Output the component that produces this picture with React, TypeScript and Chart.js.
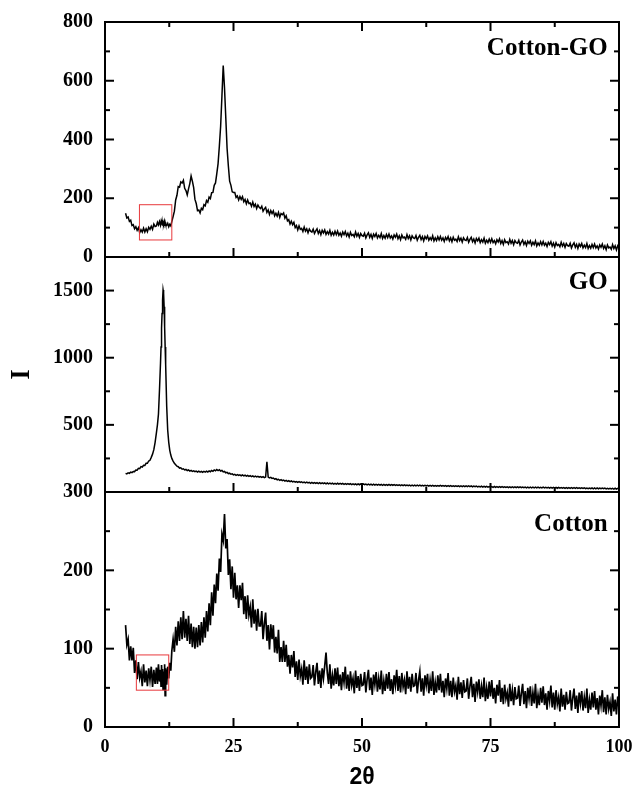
import React, { useEffect, useRef } from 'react';
import { Chart, registerables } from 'chart.js';

Chart.register(...registerables);

// 2θ sampling positions (shared by all three scans)
const twoTheta = [
  4, 4.25, 4.5, 4.75, 5, 5.25, 5.5, 5.75, 6, 6.25, 6.5, 6.75,
  7, 7.25, 7.5, 7.75, 8, 8.25, 8.5, 8.75, 9, 9.25, 9.5, 9.75,
  10, 10.2, 10.4, 10.6, 10.8, 10.9, 11, 11.1, 11.2, 11.3, 11.4, 11.5, 11.6, 11.7, 11.8, 12, 12.2, 12.4, 12.6, 12.8, 13,
  13.25, 13.5, 13.75, 14, 14.25, 14.5, 14.75, 15, 15.25, 15.5,
  15.75, 16, 16.25, 16.5, 16.75, 17, 17.25, 17.5, 17.75, 18,
  18.25, 18.5, 18.75, 19, 19.25, 19.5, 19.75, 20, 20.25, 20.5,
  20.75, 21, 21.25, 21.5, 21.75, 22, 22.25, 22.5, 22.75, 23,
  23.25, 23.5, 23.75, 24, 24.25, 24.5, 24.75, 25,
  25.25, 25.5, 25.75, 26, 26.25, 26.5, 26.75, 27, 27.25, 27.5, 27.75, 28, 28.25, 28.5, 28.75, 29, 29.25, 29.5, 29.75, 30,
  30.25, 30.5, 30.75, 31, 31.25, 31.5, 31.75, 32, 32.25, 32.5, 32.75, 33, 33.25, 33.5, 33.75, 34, 34.25, 34.5, 34.75, 35,
  35.25, 35.5, 35.75, 36, 36.25, 36.5, 36.75, 37, 37.25, 37.5, 37.75, 38, 38.25, 38.5, 38.75, 39, 39.25, 39.5, 39.75, 40,
  40.25, 40.5, 40.75, 41, 41.25, 41.5, 41.75, 42, 42.25, 42.5, 42.75, 43, 43.25, 43.5, 43.75, 44, 44.25, 44.5, 44.75, 45,
  45.25, 45.5, 45.75, 46, 46.25, 46.5, 46.75, 47, 47.25, 47.5, 47.75, 48, 48.25, 48.5, 48.75, 49, 49.25, 49.5, 49.75, 50,
  50.25, 50.5, 50.75, 51, 51.25, 51.5, 51.75, 52, 52.25, 52.5, 52.75, 53, 53.25, 53.5, 53.75, 54, 54.25, 54.5, 54.75, 55,
  55.25, 55.5, 55.75, 56, 56.25, 56.5, 56.75, 57, 57.25, 57.5, 57.75, 58, 58.25, 58.5, 58.75, 59, 59.25, 59.5, 59.75, 60,
  60.25, 60.5, 60.75, 61, 61.25, 61.5, 61.75, 62, 62.25, 62.5, 62.75, 63, 63.25, 63.5, 63.75, 64, 64.25, 64.5, 64.75, 65,
  65.25, 65.5, 65.75, 66, 66.25, 66.5, 66.75, 67, 67.25, 67.5, 67.75, 68, 68.25, 68.5, 68.75, 69, 69.25, 69.5, 69.75, 70,
  70.25, 70.5, 70.75, 71, 71.25, 71.5, 71.75, 72, 72.25, 72.5, 72.75, 73, 73.25, 73.5, 73.75, 74, 74.25, 74.5, 74.75, 75,
  75.25, 75.5, 75.75, 76, 76.25, 76.5, 76.75, 77, 77.25, 77.5, 77.75, 78, 78.25, 78.5, 78.75, 79, 79.25, 79.5, 79.75, 80,
  80.25, 80.5, 80.75, 81, 81.25, 81.5, 81.75, 82, 82.25, 82.5, 82.75, 83, 83.25, 83.5, 83.75, 84, 84.25, 84.5, 84.75, 85,
  85.25, 85.5, 85.75, 86, 86.25, 86.5, 86.75, 87, 87.25, 87.5, 87.75, 88, 88.25, 88.5, 88.75, 89, 89.25, 89.5, 89.75, 90,
  90.25, 90.5, 90.75, 91, 91.25, 91.5, 91.75, 92, 92.25, 92.5, 92.75, 93, 93.25, 93.5, 93.75, 94, 94.25, 94.5, 94.75, 95,
  95.25, 95.5, 95.75, 96, 96.25, 96.5, 96.75, 97, 97.25, 97.5, 97.75, 98, 98.25, 98.5, 98.75, 99, 99.25, 99.5, 99.75, 100,
];

// Cotton-GO intensity
const cottonGO = [
  149, 133, 136, 121, 125, 107, 110, 96, 103, 91, 100, 83,
  93, 85, 98, 85, 96, 86, 101, 94, 105, 94, 112, 104,
  106, 118, 109, 121, 108, 119, 110, 122, 107, 117, 112, 120, 106, 118, 111, 108, 115, 103, 111, 106, 121,
  138, 156, 194, 210, 240, 238, 256, 252, 261, 234,
  226, 211, 232, 250, 276, 258, 236, 196, 182, 158,
  160, 150, 166, 161, 178, 174, 192, 186, 204, 199,
  219, 220, 244, 252, 284, 318, 378, 446, 548, 652,
  576, 474, 370, 310, 258, 244, 222, 220,
  220, 203, 208, 194, 206, 196, 205, 188, 196, 181, 194, 182, 184, 173, 187, 172, 180, 165, 177, 169,
  165, 173, 156, 164, 169, 152, 160, 145, 158, 148, 157, 140, 149, 139, 152, 135, 148, 144, 150, 132,
  140, 123, 127, 112, 122, 110, 118, 100, 107, 92, 106, 94, 97, 87, 102, 88, 96, 82, 95, 88,
  85, 95, 80, 89, 96, 80, 90, 76, 91, 82, 92, 77, 86, 78, 91, 74, 84, 75, 88, 76,
  88, 74, 82, 71, 85, 76, 87, 72, 81, 68, 84, 73, 77, 69, 85, 71, 80, 67, 80, 73,
  71, 81, 65, 75, 82, 67, 77, 63, 78, 70, 80, 65, 74, 66, 80, 63, 73, 64, 77, 66,
  78, 65, 72, 61, 75, 67, 78, 62, 72, 59, 75, 65, 68, 60, 76, 63, 72, 58, 72, 65,
  63, 73, 57, 67, 74, 59, 69, 55, 70, 62, 72, 57, 66, 58, 72, 55, 65, 56, 69, 58,
  70, 57, 65, 53, 67, 59, 70, 55, 65, 52, 67, 57, 61, 53, 69, 56, 64, 51, 65, 58,
  56, 66, 50, 60, 67, 52, 61, 48, 63, 55, 64, 49, 59, 51, 64, 47, 57, 49, 61, 50,
  62, 49, 56, 45, 59, 51, 62, 46, 56, 43, 59, 49, 52, 44, 60, 47, 56, 42, 56, 49,
  47, 57, 41, 51, 58, 43, 52, 39, 54, 46, 55, 40, 50, 42, 55, 38, 48, 40, 52, 41,
  53, 40, 47, 36, 50, 42, 52, 37, 47, 34, 49, 39, 43, 35, 50, 37, 46, 33, 46, 39,
  37, 47, 31, 41, 48, 33, 43, 29, 44, 36, 46, 31, 40, 32, 46, 29, 39, 30, 43, 32,
  44, 31, 38, 27, 41, 33, 44, 29, 38, 25, 41, 31, 34, 26, 42, 29, 38, 24, 38, 31,
];

// GO intensity
const goI = [
  139, 135, 143, 139, 148, 144, 153, 152, 164, 162, 176, 174,
  189, 186, 199, 198, 214, 214, 231, 236, 258, 282, 315, 370,
  440, 500, 580, 760, 960, 1080, 1220, 1330, 1430, 1505, 1480, 1380, 1230, 1080, 950, 640, 460, 370, 310, 275, 250,
  230, 214, 203, 192, 188, 178, 180, 170, 173, 164,
  168, 160, 164, 156, 161, 153, 158, 151, 156, 149,
  155, 148, 154, 147, 153, 148, 155, 149, 157, 151,
  160, 154, 164, 158, 167, 160, 166, 156, 160, 150,
  153, 143, 146, 137, 140, 132, 135, 127,
  131, 124, 129, 123, 128, 121, 127, 120, 125, 118, 123, 116, 122, 115, 120, 113, 118, 112, 117, 110,
  115, 109, 114, 107, 112, 225, 111, 105, 109, 101, 104, 95, 99, 91, 95, 87, 92, 85, 89, 81,
  86, 79, 84, 77, 82, 75, 80, 73, 78, 72, 77, 71, 76, 69, 74, 68, 73, 67, 72, 65,
  71, 65, 70, 64, 70, 63, 69, 63, 68, 62, 68, 61, 67, 61, 66, 60, 66, 59, 65, 59,
  65, 58, 64, 58, 64, 57, 63, 57, 62, 56, 62, 55, 61, 55, 61, 54, 60, 54, 60, 54,
  60, 54, 59, 53, 59, 53, 58, 52, 58, 52, 57, 51, 57, 51, 56, 50, 56, 50, 55, 50,
  56, 50, 55, 50, 55, 49, 54, 49, 54, 48, 53, 48, 53, 47, 52, 47, 52, 46, 51, 46,
  52, 46, 51, 46, 51, 45, 50, 45, 50, 45, 49, 44, 49, 44, 49, 43, 48, 43, 48, 43,
  49, 43, 48, 43, 48, 42, 47, 42, 47, 42, 46, 41, 46, 41, 46, 40, 45, 40, 45, 40,
  46, 40, 45, 40, 45, 39, 44, 39, 44, 38, 43, 38, 43, 37, 42, 37, 42, 36, 41, 36,
  41, 35, 41, 35, 40, 35, 40, 34, 40, 34, 39, 34, 39, 33, 39, 33, 38, 33, 38, 32,
  38, 32, 38, 32, 37, 32, 37, 31, 37, 31, 36, 31, 36, 31, 36, 30, 36, 30, 35, 30,
  36, 30, 35, 30, 35, 29, 35, 29, 34, 29, 34, 28, 34, 28, 33, 28, 33, 27, 33, 27,
  33, 27, 32, 27, 32, 27, 32, 26, 31, 26, 31, 26, 31, 25, 30, 25, 30, 25, 30, 24,
  30, 24, 30, 24, 29, 24, 29, 24, 29, 23, 28, 23, 28, 23, 28, 22, 28, 22, 27, 22,
];

// Cotton intensity
const cottonI = [
  130, 105, 112, 85, 103, 85, 101, 69, 85, 61, 83, 63,
  71, 52, 80, 57, 72, 52, 75, 60, 77, 51, 73, 55,
  76, 55, 80, 58, 73, 52, 79, 60, 74, 48, 71, 62, 80, 40, 75, 54, 77, 62, 82, 72, 97,
  112, 96, 128, 104, 135, 110, 140, 112, 148, 114,
  138, 110, 142, 106, 132, 102, 128, 100, 127, 102,
  130, 104, 134, 108, 140, 114, 148, 122, 158, 130,
  172, 142, 182, 158, 196, 174, 215, 198, 246, 238,
  272, 228, 240, 194, 214, 176, 205, 165,
  197, 163, 181, 152, 181, 162, 184, 144, 167, 138, 168, 143, 153, 127, 163, 132, 150, 123, 151, 129,
  129, 148, 112, 132, 146, 110, 130, 99, 131, 112, 130, 95, 115, 94, 124, 83, 102, 83, 110, 83,
  105, 77, 92, 68, 92, 76, 97, 64, 84, 60, 86, 65, 74, 54, 85, 60, 77, 55, 80, 62,
  64, 79, 53, 70, 82, 55, 72, 50, 75, 62, 78, 95, 69, 55, 80, 49, 66, 53, 75, 55,
  76, 52, 67, 47, 70, 57, 77, 49, 67, 46, 71, 53, 62, 43, 72, 50, 65, 46, 68, 53,
  54, 70, 44, 61, 73, 47, 63, 41, 67, 54, 70, 45, 62, 48, 72, 42, 59, 46, 68, 49,
  70, 46, 61, 42, 66, 53, 73, 46, 65, 44, 69, 51, 60, 42, 71, 49, 64, 45, 68, 52,
  53, 69, 43, 60, 71, 45, 62, 40, 66, 53, 68, 43, 60, 46, 71, 41, 57, 44, 66, 47,
  68, 44, 59, 38, 62, 49, 69, 40, 59, 38, 63, 45, 53, 35, 64, 42, 57, 37, 60, 45,
  46, 62, 36, 52, 64, 38, 55, 32, 58, 45, 61, 36, 52, 38, 63, 33, 50, 36, 58, 39,
  60, 36, 50, 30, 54, 40, 60, 32, 50, 29, 54, 36, 44, 26, 55, 33, 47, 28, 51, 36,
  37, 53, 27, 43, 55, 29, 46, 24, 50, 36, 52, 27, 44, 30, 55, 24, 41, 28, 50, 31,
  52, 28, 43, 22, 46, 33, 53, 25, 44, 22, 47, 29, 38, 20, 49, 26, 41, 22, 45, 30,
  31, 47, 21, 37, 49, 23, 40, 18, 44, 30, 46, 21, 38, 24, 49, 18, 35, 22, 44, 25,
  46, 22, 37, 16, 40, 27, 47, 19, 38, 16, 41, 23, 32, 14, 43, 20, 35, 16, 39, 24,
];

// panels (top to bottom)
const panelIds = ['yTop', 'yGO', 'yCot'];
const panelNames = ['Cotton-GO', 'GO', 'Cotton'];
const panelMin = [0, 0, 0];
const panelMax = [800, 1750, 300];
const panelMajor = [200, 500, 100];
const panelMinor = [100, 250, 50];
const topTickLabels = [0, 200, 400, 600, 800];
const goTickLabels = [500, 1000, 1500];
const cotTickLabels = [0, 100, 200, 300];
const panelTickLabels = [topTickLabels, goTickLabels, cotTickLabels];
const panelLineWidth = [1.5, 1.5, 1.7];
const panelLabelX = 97.8;
const panelLabelY = [708, 1560, 258];

// x axis
const xMin = 0;
const xMax = 100;
const xTickLabels = [0, 25, 50, 75, 100];
const xMajor = 25;
const xMinor = 12.5;

// highlighted regions (red boxes)
const boxPanels = ['yTop', 'yCot'];
const boxX0 = [6.7, 6.1];
const boxX1 = [13.0, 12.4];
const boxY0 = [58, 47];
const boxY1 = [178, 92];

const serif = "'Liberation Serif', 'Times New Roman', serif";
const sans = "'Liberation Sans', Arial, sans-serif";

const framePlugin = {
  id: 'frameTicks',
  afterDraw(chart: any) {
    const ctx = chart.ctx;
    const area = chart.chartArea;
    const xs = chart.scales.x;
    ctx.save();
    ctx.strokeStyle = '#000';
    ctx.lineCap = 'butt';
    const line = (x1: number, y1: number, x2: number, y2: number, w: number) => {
      ctx.lineWidth = w;
      ctx.beginPath();
      ctx.moveTo(x1, y1);
      ctx.lineTo(x2, y2);
      ctx.stroke();
    };
    panelIds.forEach((id, i) => {
      const s = chart.scales[id];
      const top = s.top;
      const bottom = s.bottom;
      for (let v = panelMin[i]; v <= panelMax[i] + 1e-6; v += panelMinor[i]) {
        const y = s.getPixelForValue(v);
        const len = Math.abs(v % panelMajor[i]) < 1e-6 ? 9 : 5;
        line(area.left, y, area.left + len, y, 2);
        line(area.right, y, area.right - len, y, 2);
      }
      for (let v = xMin; v <= xMax + 1e-6; v += xMinor) {
        const px = xs.getPixelForValue(v);
        const len = Math.abs(v % xMajor) < 1e-6 ? 9 : 5;
        line(px, bottom, px, bottom - len, 2);
        if (i === 0) line(px, top, px, top + len, 2);
      }
      ctx.lineWidth = 2;
      ctx.strokeRect(area.left, top, area.right - area.left, bottom - top);
      ctx.fillStyle = '#000';
      ctx.font = `bold 25px ${serif}`;
      ctx.textAlign = 'right';
      ctx.textBaseline = 'middle';
      ctx.fillText(panelNames[i], xs.getPixelForValue(panelLabelX), s.getPixelForValue(panelLabelY[i]));
    });
    ctx.strokeStyle = '#e8393c';
    ctx.lineWidth = 1;
    boxPanels.forEach((id, i) => {
      const s = chart.scales[id];
      const x0 = xs.getPixelForValue(boxX0[i]);
      const x1 = xs.getPixelForValue(boxX1[i]);
      const y0 = s.getPixelForValue(boxY0[i]);
      const y1 = s.getPixelForValue(boxY1[i]);
      ctx.strokeRect(x0, y1, x1 - x0, y0 - y1);
    });
    ctx.restore();
  },
};

function yScale(i: number, withTitle: boolean) {
  return {
    type: 'linear',
    position: 'left',
    stack: 'panels',
    stackWeight: 1,
    min: panelMin[i],
    max: panelMax[i],
    grid: { display: false, drawTicks: false },
    border: { display: false },
    afterBuildTicks: (s: any) => {
      s.ticks = panelTickLabels[i].map((v) => ({ value: v }));
    },
    ticks: {
      autoSkip: false,
      padding: 12,
      color: '#000',
      font: { family: serif, weight: 'bold', size: 20 },
      callback: (v: any) => String(v),
    },
    title: {
      display: withTitle,
      text: 'I',
      color: '#000',
      font: { family: serif, weight: 'bold', size: 27 },
      padding: { top: 6, bottom: 0 },
    },
    afterFit: (s: any) => {
      s.width = 105;
      s.paddingTop = 0;
      s.paddingBottom = 0;
    },
  };
}

export default function App() {
  const ref = useRef<HTMLCanvasElement>(null);
  useEffect(() => {
    if (!ref.current) return;
    const mk = (ys: number[]) => twoTheta.map((t, i) => ({ x: t, y: ys[i] }));
    const ds = (data: any, yAxisID: string, w: number) => ({
      data,
      yAxisID,
      xAxisID: 'x',
      borderColor: '#000',
      borderWidth: w,
      pointRadius: 0,
      tension: 0,
      fill: false,
    });
    const chart = new Chart(ref.current, {
      type: 'line',
      data: {
        datasets: [
          ds(mk(cottonGO), 'yTop', panelLineWidth[0]),
          ds(mk(goI), 'yGO', panelLineWidth[1]),
          ds(mk(cottonI), 'yCot', panelLineWidth[2]),
        ],
      },
      plugins: [framePlugin],
      options: {
        animation: false,
        responsive: false,
        devicePixelRatio: 1,
        layout: { padding: { top: 22, right: 17, bottom: 0, left: 0 } },
        plugins: { legend: { display: false }, tooltip: { enabled: false } },
        scales: {
          x: {
            type: 'linear',
            position: 'bottom',
            min: xMin,
            max: xMax,
            grid: { display: false, drawTicks: false },
            border: { display: false },
            afterBuildTicks: (s: any) => {
              s.ticks = xTickLabels.map((v) => ({ value: v }));
            },
            ticks: {
              autoSkip: false,
              maxRotation: 0,
              padding: 10,
              color: '#000',
              font: { family: serif, weight: 'bold', size: 18 },
              callback: (v: any) => String(v),
            },
            title: {
              display: true,
              text: '2θ',
              color: '#000',
              font: { family: sans, weight: 'bold', size: 23 },
              padding: { top: 0, bottom: 2 },
            },
            afterFit: (s: any) => {
              s.height = 66;
              s.paddingLeft = 0;
              s.paddingRight = 0;
            },
          },
          yCot: yScale(2, false),
          yGO: yScale(1, true),
          yTop: yScale(0, false),
        } as any,
      },
    } as any);
    return () => chart.destroy();
  }, []);
  return (
    <div style={{ position: 'absolute', left: 0, top: 0, width: 636, height: 793 }}>
      <canvas ref={ref} width={636} height={793} style={{ display: 'block' }} />
    </div>
  );
}
